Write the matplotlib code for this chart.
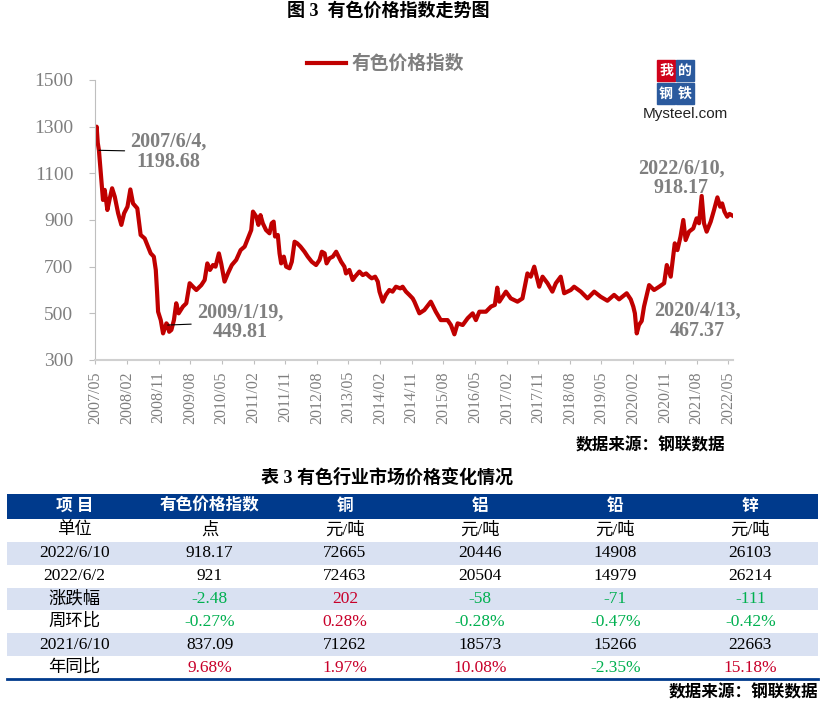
import numpy as np
import pandas as pd
import matplotlib
matplotlib.use('Agg')
import matplotlib.pyplot as plt
from matplotlib.patches import Rectangle

plt.rcParams['font.family'] = ['Liberation Serif', 'Noto Sans CJK SC']
plt.rcParams['axes.unicode_minus'] = False

W, H = 826, 705

# 有色价格指数
index_dates = [
    '2007-05-08', '2007-05-15', '2007-05-25', '2007-06-04', '2007-06-20', '2007-07-09', '2007-07-24',
    '2007-08-16', '2007-09-06', '2007-09-26', '2007-10-19', '2007-11-17', '2007-12-15', '2008-01-08',
    '2008-02-06', '2008-03-02', '2008-03-25', '2008-05-01', '2008-05-30', '2008-07-04', '2008-08-02',
    '2008-08-25', '2008-09-21', '2008-10-08', '2008-10-19', '2008-10-28', '2008-11-20', '2008-12-10',
    '2009-01-08', '2009-01-19', '2009-02-01', '2009-02-20', '2009-03-14', '2009-04-03', '2009-04-24',
    '2009-05-31', '2009-06-29', '2009-07-28', '2009-08-26', '2009-09-24', '2009-11-06', '2009-12-05',
    '2009-12-28', '2010-01-20', '2010-02-15', '2010-03-09', '2010-04-07', '2010-04-27', '2010-05-26',
    '2010-06-24', '2010-07-28', '2010-09-04', '2010-10-12', '2010-11-16', '2010-12-14', '2011-01-12',
    '2011-01-27', '2011-02-25', '2011-03-15', '2011-04-02', '2011-04-22', '2011-05-20', '2011-06-19',
    '2011-07-08', '2011-07-25', '2011-08-06', '2011-08-30', '2011-09-14', '2011-09-28', '2011-10-21',
    '2011-11-10', '2011-12-09', '2011-12-29', '2012-01-22', '2012-02-14', '2012-03-13', '2012-04-17',
    '2012-05-15', '2012-06-19', '2012-07-26', '2012-08-25', '2012-09-14', '2012-10-08', '2012-10-25',
    '2012-11-20', '2012-12-18', '2013-01-16', '2013-02-06', '2013-02-28', '2013-03-28', '2013-04-11',
    '2013-05-10', '2013-06-08', '2013-06-28', '2013-08-05', '2013-09-03', '2013-10-02', '2013-11-01',
    '2013-11-20', '2013-12-19', '2014-01-11', '2014-01-26', '2014-02-23', '2014-03-22', '2014-04-21',
    '2014-05-19', '2014-06-17', '2014-07-25', '2014-08-14', '2014-09-12', '2014-10-11', '2014-11-09',
    '2014-11-24', '2015-01-06', '2015-02-18', '2015-04-15', '2015-05-28', '2015-07-10', '2015-09-07',
    '2015-10-06', '2015-11-05', '2015-12-03', '2016-01-16', '2016-02-28', '2016-04-11', '2016-05-09',
    '2016-06-08', '2016-08-04', '2016-09-17', '2016-10-20', '2016-11-10', '2016-11-28', '2017-01-24',
    '2017-03-07', '2017-05-04', '2017-06-16', '2017-07-29', '2017-08-27', '2017-09-26', '2017-11-08',
    '2017-12-07', '2018-01-19', '2018-03-02', '2018-04-01', '2018-05-13', '2018-06-12', '2018-08-08',
    '2018-09-06', '2018-11-03', '2018-12-31', '2019-02-27', '2019-04-24', '2019-06-21', '2019-08-18',
    '2019-09-30', '2019-12-05', '2020-01-09', '2020-01-31', '2020-02-14', '2020-03-01', '2020-03-20',
    '2020-04-13', '2020-05-03', '2020-06-16', '2020-07-29', '2020-09-11', '2020-10-24', '2020-11-16',
    '2020-12-20', '2021-01-24', '2021-02-16', '2021-03-15', '2021-04-08', '2021-04-28', '2021-05-27',
    '2021-07-03', '2021-08-01', '2021-08-22', '2021-09-14', '2021-10-04', '2021-10-27', '2021-12-01',
    '2021-12-30', '2022-01-28', '2022-02-21', '2022-03-10', '2022-03-30', '2022-04-23', '2022-05-13',
    '2022-06-10',
]
index_values = [
    1245, 1300, 1230, 1198.68, 1100, 986, 1029,
    943, 993, 1036, 1000, 929, 879, 929,
    957, 1031, 971, 950, 836, 821, 786,
    757, 743, 686, 593, 507, 471, 414,
    457, 449.81, 421, 429, 471, 543, 500,
    529, 543, 629, 614, 600, 621, 643,
    714, 686, 707, 700, 757, 714, 636,
    671, 707, 729, 771, 786, 821, 857,
    936, 914, 879, 921, 886, 857, 843,
    886, 893, 829, 836, 757, 714, 743,
    700, 693, 721, 807, 800, 786, 764,
    743, 721, 707, 729, 764, 757, 714,
    736, 743, 764, 743, 721, 700, 671,
    686, 643, 657, 679, 664, 671, 657,
    650, 657, 636, 593, 550, 579, 600,
    593, 614, 607, 614, 593, 579, 564,
    550, 500, 514, 550, 507, 471, 471,
    450, 410, 457, 450, 479, 500, 471,
    507, 507, 529, 536, 610, 550, 593,
    564, 550, 564, 671, 657, 700, 614,
    657, 629, 593, 629, 657, 586, 600,
    614, 593, 564, 593, 571, 554, 579,
    560, 586, 560, 529, 500, 414, 450,
    467.37, 529, 621, 600, 614, 629, 707,
    657, 800, 771, 829, 900, 814, 850,
    864, 907, 886, 1003, 886, 850, 893,
    943, 997, 957, 971, 936, 914, 926,
    918.17,
]

note_dates = ['2007-06-04', '2009-01-19', '2022-06-10', '2020-04-13']
note_values = [1198.68, 449.81, 918.17, 467.37]
note_texts = ['2007/6/4,\n1198.68', '2009/1/19,\n449.81', '2022/6/10,\n918.17', '2020/4/13,\n467.37']

# 表格数据
table_header = ['项 目', '有色价格指数', '铜', '铝', '铅', '锌']
row_names = ['单位', '2022/6/10', '2022/6/2', '涨跌幅', '周环比', '2021/6/10', '年同比']
unit_row = ['点', '元/吨', '元/吨', '元/吨', '元/吨']
price_now = ['918.17', '72665', '20446', '14908', '26103']
price_prev = ['921', '72463', '20504', '14979', '26214']
change_abs = ['-2.48', '202', '-58', '-71', '-111']
change_wow = ['-0.27%', '0.28%', '-0.28%', '-0.47%', '-0.42%']
price_lastyear = ['837.09', '71262', '18573', '15266', '22663']
change_yoy = ['9.68%', '1.97%', '10.08%', '-2.35%', '15.18%']

RED = '#C00000'
GRAY = '#7F7F7F'
NAVY = '#003A8C'
LIGHT = '#D9E1F2'
UP = '#C8002A'
DOWN = '#00B050'


def fx(x):
    return x / W


def fy(y):
    return 1 - y / H


fig = plt.figure(figsize=(W / 100, H / 100), dpi=100)

fig.text(fx(388), fy(11), '图 3  有色价格指数走势图', ha='center', va='center',
         fontsize=13, fontweight='bold')

ax = fig.add_axes([fx(95), fy(360), (733 - 95) / W, (360 - 80) / H])
line, = ax.plot(pd.to_datetime(index_dates), index_values, color=RED, lw=3.0,
                solid_joinstyle='round')
ax.set_ylim(300, 1500)
ax.set_yticks(range(300, 1501, 200))
xt = pd.date_range('2007-05-01', '2022-05-01', freq='9MS')
ax.set_xticks(xt)
ax.set_xticklabels([d.strftime('%Y/%m') for d in xt], rotation=90)
ax.set_xlim(pd.Timestamp('2007-05-01'), pd.Timestamp('2022-06-12'))
for s in ['top', 'right']:
    ax.spines[s].set_visible(False)
ax.spines['left'].set_color('#BFBFBF')
ax.spines['bottom'].set_color('#D0D0D0')
ax.spines['bottom'].set_linewidth(1.5)
ax.tick_params(axis='y', colors='#BFBFBF', labelcolor=GRAY, labelsize=14, length=4.5, pad=11)
ax.tick_params(axis='x', colors='#BFBFBF', labelcolor=GRAY, labelsize=11.5, length=3, pad=5)

offsets = [(50, -1), (52, 2), (-37, 27), (40, 0)]
for i in range(4):
    kw = {}
    if i < 2:
        kw['arrowprops'] = dict(arrowstyle='-', color='black', lw=0.8, shrinkA=2, shrinkB=0)
    ax.annotate(note_texts[i], xy=(pd.Timestamp(note_dates[i]), note_values[i]),
                xytext=offsets[i], textcoords='offset points', ha='center', va='center',
                fontsize=14.5, fontweight='bold', color=GRAY, linespacing=1.0, **kw)

ax.legend(handles=[line], labels=['有色价格指数'], loc='center left',
          bbox_to_anchor=(fx(307), fy(64)), bbox_transform=fig.transFigure,
          frameon=False, handlelength=2.1, handletextpad=0.3, borderpad=0,
          borderaxespad=0, prop={'size': 13.5, 'weight': 'bold'}, labelcolor=GRAY)

# Mysteel 标志
logo = [('我', 657, 60, '#D0021B'), ('的', 676, 60, '#2B5A9E'),
        ('钢', 657, 83, '#2B5A9E'), ('铁', 676, 83, '#2B5A9E')]
for ch, lx, ly, c in logo:
    fig.patches.append(Rectangle((fx(lx), fy(ly + 21)), 18 / W, 21 / H, color=c,
                                 transform=fig.transFigure))
    fig.text(fx(lx + 9), fy(ly + 10.5), ch, ha='center', va='center', color='white',
             fontsize=10, fontweight='bold', family='Noto Sans CJK SC')
fig.text(fx(643), fy(114), 'Mysteel.com', ha='left', va='center', fontsize=11,
         family='Liberation Sans', color='#222222')

fig.text(fx(725), fy(446), '数据来源：钢联数据', ha='right', va='center',
         fontsize=12, fontweight='bold')

# 表格
fig.text(fx(387), fy(478), '表 3 有色行业市场价格变化情况', ha='center', va='center',
         fontsize=13, fontweight='bold')

ax_t = fig.add_axes([fx(7), fy(679), (818 - 7) / W, (679 - 494) / H])
ax_t.set_xlim(0, 6)
ax_t.set_ylim(185, 0)
ax_t.axis('off')

hh = 25
rh = 160 / 7
ax_t.add_patch(Rectangle((0, 0), 6, hh, color=NAVY, lw=0))
for j, t in enumerate(table_header):
    ax_t.text(j + 0.5, hh / 2, t, ha='center', va='center', color='white',
              fontsize=12, fontweight='bold')

body = [unit_row, price_now, price_prev, change_abs, change_wow, price_lastyear, change_yoy]
colored = [3, 4, 6]
for i, name in enumerate(row_names):
    top = hh + i * rh
    if i % 2 == 1:
        ax_t.add_patch(Rectangle((0, top), 6, rh, color=LIGHT, lw=0))
    ax_t.text(0.5, top + rh / 2, name, ha='center', va='center', fontsize=12.5)
    for j, v in enumerate(body[i]):
        c = 'black'
        if i in colored:
            c = DOWN if v.startswith('-') else UP
        ax_t.text(j + 1.5, top + rh / 2, v, ha='center', va='center', fontsize=12.5, color=c)
ax_t.axhline(185, color=NAVY, lw=2, clip_on=False)

fig.text(fx(818), fy(693), '数据来源：钢联数据', ha='right', va='center',
         fontsize=12, fontweight='bold')

fig.savefig('out.png', dpi=100)
